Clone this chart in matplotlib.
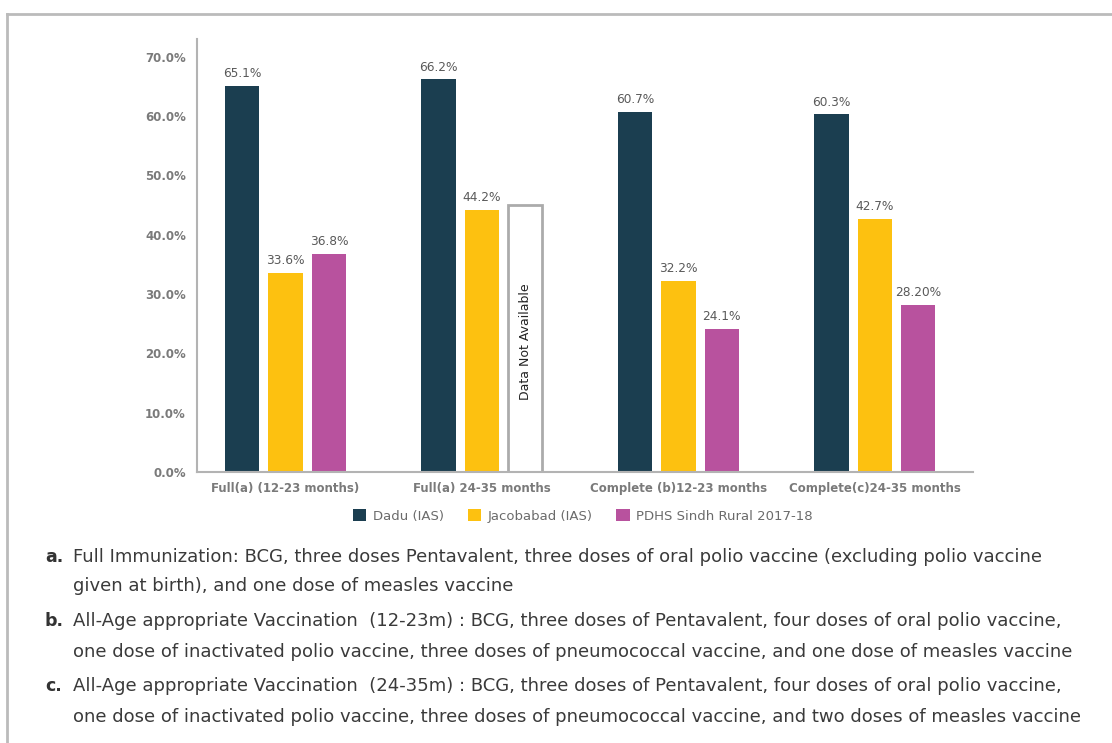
import numpy as np
import matplotlib.pyplot as plt
from matplotlib.lines import Line2D
from matplotlib.patches import Rectangle

categories = ["Full(a) (12-23 months)", "Full(a) 24-35 months",
              "Complete (b)12-23 months", "Complete(c)24-35 months"]
series = ["Dadu (IAS)", "Jacobabad (IAS)", "PDHS Sindh Rural 2017-18"]
dadu = [65.1, 66.2, 60.7, 60.3]
jacobabad = [33.6, 44.2, 32.2, 42.7]
pdhs = [36.8, np.nan, 24.1, 28.2]
pdhs_labels = ["36.8%", None, "24.1%", "28.20%"]
na_height = 45.0  # height of the empty "Data Not Available" box
yticks = [0, 10, 20, 30, 40, 50, 60, 70]

notes = [
    ("a.", ["Full Immunization: BCG, three doses Pentavalent, three doses of oral polio vaccine (excluding polio vaccine",
            "given at birth), and one dose of measles vaccine"]),
    ("b.", ["All-Age appropriate Vaccination  (12-23m) : BCG, three doses of Pentavalent, four doses of oral polio vaccine,",
            "one dose of inactivated polio vaccine, three doses of pneumococcal vaccine, and one dose of measles vaccine"]),
    ("c.", ["All-Age appropriate Vaccination  (24-35m) : BCG, three doses of Pentavalent, four doses of oral polio vaccine,",
            "one dose of inactivated polio vaccine, three doses of pneumococcal vaccine, and two doses of measles vaccine"]),
]

colors = ["#1b3e50", "#fdc110", "#b8529e"]
W, H = 1112, 743


def fx(x):
    return x / W


def fy(y):
    return 1 - y / H


fig = plt.figure(figsize=(W / 100, H / 100), dpi=100)
ax = fig.add_axes([fx(197), fy(472), fx(973) - fx(197), fy(39) - fy(472)])

x = np.arange(len(categories))
bw = 0.175
off = 0.221
for i, (vals, c) in enumerate(zip([dadu, jacobabad, pdhs], colors)):
    pos = x + (i - 1) * off
    ax.bar(pos, vals, bw, color=c, label=series[i], zorder=2)

# value labels
for i, vals in enumerate([dadu, jacobabad]):
    for xi, v in zip(x, vals):
        ax.annotate(f"{v:.1f}%", (xi + (i - 1) * off, v), xytext=(0, 4),
                    textcoords="offset points", ha="center", va="bottom",
                    fontsize=8.7, color="#595959")
for xi, v, lab in zip(x, pdhs, pdhs_labels):
    if lab is not None:
        ax.annotate(lab, (xi + off, v), xytext=(0, 4), textcoords="offset points",
                    ha="center", va="bottom", fontsize=8.7, color="#595959")

# empty box for missing PDHS value
ax.add_patch(Rectangle((x[1] + off - bw / 2, 0), bw, na_height, facecolor="white",
                       edgecolor="#ababab", linewidth=2, zorder=2))
ax.text(x[1] + off, 22, "Data Not Available", rotation=90, ha="center", va="center",
        fontsize=9, color="#222222")

ax.set_xlim(-0.45, 3.5)
ax.set_ylim(0, 73)
ax.set_yticks(yticks)
ax.set_yticklabels([f"{t:.1f}%" for t in yticks])
ax.set_xticks(x)
ax.set_xticklabels(categories)
ax.tick_params(length=0, labelsize=8.5, labelcolor="#7a7a7a")
ax.tick_params(axis="y", pad=8)
ax.tick_params(axis="x", pad=7)
for lab in ax.get_xticklabels() + ax.get_yticklabels():
    lab.set_fontweight("bold")
for s in ["top", "right"]:
    ax.spines[s].set_visible(False)
for s in ["left", "bottom"]:
    ax.spines[s].set_color("#b3b3b3")
    ax.spines[s].set_linewidth(1.5)

leg = fig.legend(loc="center", bbox_to_anchor=(fx(583), fy(516)), ncol=3, frameon=False,
                 fontsize=9.5, labelcolor="#6b6b6b", handlelength=1.0, handleheight=1.0,
                 handletextpad=0.5, columnspacing=1.8)

# outer frame
fig.add_artist(Line2D([fx(7), 1], [fy(14), fy(14)], color="#bbbbbb", lw=2))
fig.add_artist(Line2D([fx(7), fx(7)], [fy(14), 0], color="#bbbbbb", lw=2))

# footnotes
line_y = [[557, 586], [621, 652], [686, 717]]
for (tag, lines), ys in zip(notes, line_y):
    fig.text(fx(45), fy(ys[0]), tag, fontsize=12.5, fontweight="bold", color="#333333", va="center")
    for txt, yy in zip(lines, ys):
        fig.text(fx(73), fy(yy), txt, fontsize=13, color="#3a3a3a", va="center")

fig.savefig("out.png", dpi=100)
